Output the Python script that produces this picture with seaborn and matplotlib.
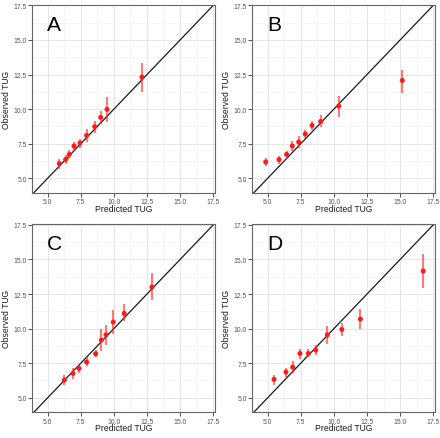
import matplotlib
matplotlib.use("Agg")
import matplotlib.pyplot as plt
import seaborn as sns
import pandas as pd
import numpy as np
from matplotlib.ticker import MultipleLocator

# ---- data ----
panels = ["A", "B", "C", "D"]

pred_A = [5.88, 6.36, 6.63, 6.99, 7.44, 7.94, 8.55, 9.00, 9.48, 12.12]
obs_A = [6.06, 6.37, 6.73, 7.33, 7.55, 8.10, 8.73, 9.40, 9.98, 12.31]
lo_A = [5.70, 6.03, 6.42, 6.97, 7.19, 7.62, 8.29, 8.89, 9.06, 11.25]
hi_A = [6.39, 6.66, 7.04, 7.64, 7.86, 8.53, 9.16, 9.86, 10.87, 13.34]

pred_B = [4.85, 5.86, 6.43, 6.86, 7.34, 7.84, 8.35, 9.00, 10.36, 15.16]
obs_B = [6.18, 6.35, 6.73, 7.33, 7.62, 8.20, 8.82, 9.11, 10.22, 12.07]
lo_B = [5.89, 6.06, 6.49, 6.97, 7.21, 7.93, 8.46, 8.70, 9.45, 11.18]
hi_B = [6.49, 6.61, 6.97, 7.69, 8.05, 8.46, 9.16, 9.54, 10.94, 12.86]

pred_C = [6.26, 6.91, 7.36, 7.94, 8.62, 9.05, 9.40, 9.95, 10.78, 12.87]
obs_C = [6.28, 6.76, 7.12, 7.58, 8.18, 9.17, 9.55, 10.47, 11.10, 13.00]
lo_C = [5.92, 6.35, 6.81, 7.29, 7.92, 8.37, 8.83, 9.63, 10.54, 12.04]
hi_C = [6.64, 7.12, 7.36, 7.92, 8.42, 9.99, 10.25, 11.31, 11.75, 14.04]

pred_D = [5.48, 6.38, 6.89, 7.44, 8.07, 8.62, 9.50, 10.60, 12.00, 16.74]
obs_D = [6.33, 6.86, 7.22, 8.20, 8.20, 8.45, 9.55, 9.94, 10.69, 14.16]
lo_D = [5.92, 6.47, 6.76, 7.82, 7.92, 8.06, 8.86, 9.46, 9.96, 12.95]
hi_D = [6.66, 7.12, 7.65, 8.49, 8.49, 8.78, 10.18, 10.42, 11.43, 15.36]

tick_values = [5.0, 7.5, 10.0, 12.5, 15.0, 17.5]
tick_labels = ["5.0", "7.5", "10.0", "12.5", "15.0", "17.5"]
x_title = "Predicted TUG"
y_title = "Observed TUG"

data = {
    "A": (pred_A, obs_A, lo_A, hi_A),
    "B": (pred_B, obs_B, lo_B, hi_B),
    "C": (pred_C, obs_C, lo_C, hi_C),
    "D": (pred_D, obs_D, lo_D, hi_D),
}

sns.set_style("white")
plt.rcParams["font.family"] = ["Liberation Sans", "DejaVu Sans"]

W, H = 440, 439
fig = plt.figure(figsize=(W / 100, H / 100), dpi=100)

# pixel boxes (left, top, right, bottom)
boxes = {
    "A": (32.3, 5.5, 215, 193.8),
    "B": (252.3, 5.5, 435, 193.8),
    "C": (32.3, 225, 215, 413.3),
    "D": (252.3, 225, 435, 413.3),
}

for p in panels:
    l, t, r, b = boxes[p]
    aw, ah = r - l, b - t
    ax = fig.add_axes([l / W, 1 - b / H, aw / W, ah / H])
    pred, obs, lo, hi = data[p]
    df = pd.DataFrame({"pred": pred, "obs": obs, "lo": lo, "hi": hi})

    ax.set_xlim(3.84, 17.63)
    ax.set_ylim(3.95, 17.56)
    ax.xaxis.set_minor_locator(MultipleLocator(1.25))
    ax.yaxis.set_minor_locator(MultipleLocator(1.25))
    ax.grid(True, which="major", color="#e6e6e6", linewidth=0.7, zorder=0)
    ax.grid(True, which="minor", color="#f2f2f2", linewidth=0.45, zorder=0)
    ax.set_axisbelow(True)

    ax.axline((5, 5), slope=1, color="#1a1a1a", linewidth=0.9, zorder=2)

    ax.vlines(df["pred"], df["lo"], df["hi"], color="#ff2020", alpha=0.6,
              linewidth=1.5, zorder=3)
    sns.scatterplot(data=df, x="pred", y="obs", ax=ax, color="#ff1a1a",
                    s=13, edgecolor="none", zorder=4, legend=False)

    ax.set_xticks(tick_values)
    ax.set_xticklabels(tick_labels)
    ax.set_yticks(tick_values)
    ax.set_yticklabels(tick_labels)
    ax.tick_params(axis="both", which="major", labelsize=4.9, labelcolor="#555555",
                   length=2.6, width=0.6, color="#333333", pad=1.4, direction="out",
                   bottom=True, left=True)
    ax.tick_params(axis="both", which="minor", length=0)

    ax.set_xlabel(x_title, fontsize=6.2, color="#1a1a1a")
    ax.set_ylabel(y_title, fontsize=6.2, color="#1a1a1a")
    ax.xaxis.label.set_va("top")
    ax.xaxis.set_label_coords(0.5, -(205.0 - 193.8) / ah)
    ax.yaxis.set_label_coords(-(32.3 - 11.0) / aw, 0.5)

    for s in ax.spines.values():
        s.set_visible(True)
        s.set_color("#666666")
        s.set_linewidth(0.8)

    ax.text(0.082, 1 - (30.7 - 5.5) / ah, p, transform=ax.transAxes, fontsize=15.1,
            color="black", ha="left", va="baseline")

fig.savefig("out.png", dpi=100)
